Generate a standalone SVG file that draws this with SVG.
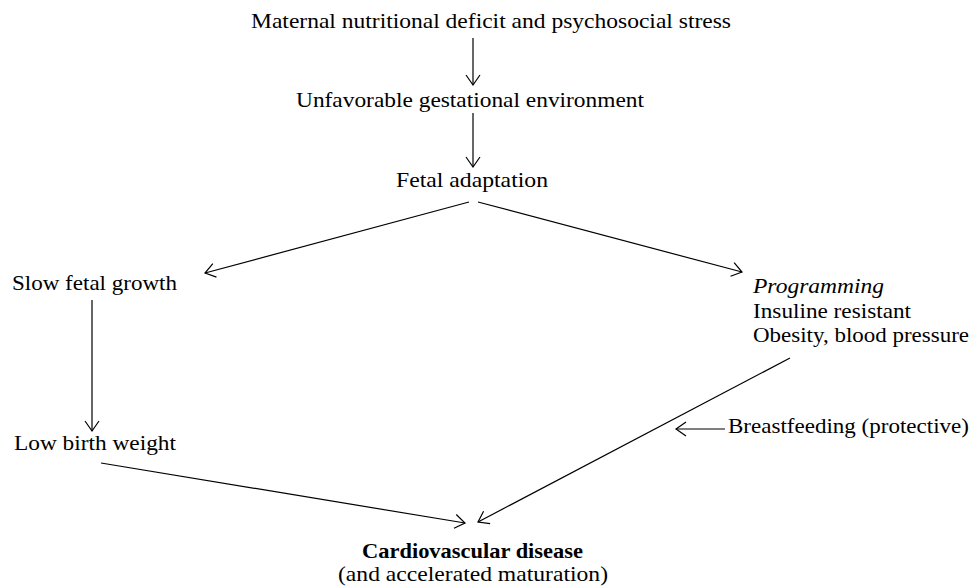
<svg xmlns="http://www.w3.org/2000/svg" width="975" height="587" viewBox="0 0 975 587">
<style>
text{font-family:'Liberation Serif','DejaVu Serif','Times New Roman',Times,serif;font-size:21px;fill:#000}
.it{font-style:italic}
.b{font-weight:bold}
.c line{stroke:#000;stroke-width:1.2;fill:none}
</style>
<defs>
<marker id="ah" markerUnits="userSpaceOnUse" markerWidth="24" markerHeight="24" viewBox="-12 -12 24 24" refX="0" refY="0" orient="auto" overflow="visible">
<path d="M-10,-7 L0,0 L-10,7" fill="none" stroke="#000" stroke-width="1.2"/>
</marker>
</defs>
<rect width="975" height="587" fill="#fff"/>
<g font-family="'Liberation Serif','DejaVu Serif',serif">
<g id="n1"><text x="251" y="28" textLength="480" lengthAdjust="spacingAndGlyphs">Maternal nutritional deficit and psychosocial stress</text></g>
<g id="n2"><text x="296" y="107" textLength="348" lengthAdjust="spacingAndGlyphs">Unfavorable gestational environment</text></g>
<g id="n3"><text x="396" y="187" textLength="152" lengthAdjust="spacingAndGlyphs">Fetal adaptation</text></g>
<g id="n4"><text x="12" y="290" textLength="165" lengthAdjust="spacingAndGlyphs">Slow fetal growth</text></g>
<g id="n5"><text x="753" y="293" class="it" textLength="131" lengthAdjust="spacingAndGlyphs">Programming</text><text x="753" y="318" textLength="158" lengthAdjust="spacingAndGlyphs">Insuline resistant</text><text x="753" y="342" textLength="216" lengthAdjust="spacingAndGlyphs">Obesity, blood pressure</text></g>
<g id="n6"><text x="14" y="450" textLength="162" lengthAdjust="spacingAndGlyphs">Low birth weight</text></g>
<g id="n7"><text x="728" y="433" textLength="241" lengthAdjust="spacingAndGlyphs">Breastfeeding (protective)</text></g>
<g id="n8"><text x="362" y="558" class="b" textLength="221" lengthAdjust="spacingAndGlyphs">Cardiovascular disease</text><text x="338" y="581" textLength="270" lengthAdjust="spacingAndGlyphs">(and accelerated maturation)</text></g>
</g>
<g id="connectors" class="c">
<line x1="473" y1="38" x2="473" y2="85" marker-end="url(#ah)"/>
<line x1="473" y1="113" x2="473" y2="167" marker-end="url(#ah)"/>
<line x1="469" y1="202" x2="205" y2="273" marker-end="url(#ah)"/>
<line x1="478" y1="202" x2="742" y2="272" marker-end="url(#ah)"/>
<line x1="92" y1="300" x2="92" y2="431" marker-end="url(#ah)"/>
<line x1="101" y1="463" x2="465" y2="523" marker-end="url(#ah)"/>
<line x1="790" y1="358" x2="478" y2="522" marker-end="url(#ah)"/>
<line x1="725" y1="429" x2="676" y2="429" marker-end="url(#ah)"/>
</g>
</svg>
